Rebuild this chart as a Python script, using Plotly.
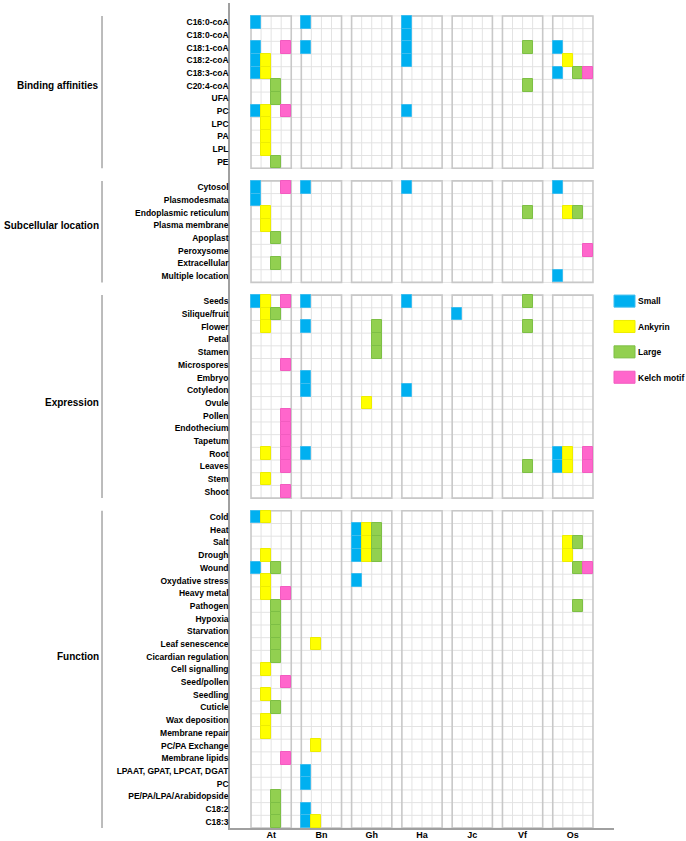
import plotly.graph_objects as go

# ---------------- data ----------------
species = ["At", "Bn", "Gh", "Ha", "Jc", "Vf", "Os"]
types = ["Small", "Ankyrin", "Large", "Kelch motif"]
type_codes = ["S", "A", "L", "K"]
type_colors = ["#00B0F0", "#FFFF00", "#92D050", "#FF66CC"]
type_borders = ["#3DBDEF", "#EDED00", "#7DBF45", "#F25CC0"]

section_names = ["Binding affinities", "Subcellular location", "Expression", "Function"]

binding_labels = ["C16:0-coA", "C18:0-coA", "C18:1-coA", "C18:2-coA", "C18:3-coA",
                  "C20:4-coA", "UFA", "PC", "LPC", "PA", "LPL", "PE"]
#                  At     Bn   Gh   Ha   Jc   Vf   Os
binding_marks = [["S",   "S", "",  "S", "",  "",  ""],
                 ["",    "",  "",  "S", "",  "",  ""],
                 ["SK",  "S", "",  "S", "",  "L", "S"],
                 ["SA",  "",  "",  "S", "",  "",  "A"],
                 ["SA",  "",  "",  "",  "",  "",  "SLK"],
                 ["L",   "",  "",  "",  "",  "L", ""],
                 ["L",   "",  "",  "",  "",  "",  ""],
                 ["SAK", "",  "",  "S", "",  "",  ""],
                 ["A",   "",  "",  "",  "",  "",  ""],
                 ["A",   "",  "",  "",  "",  "",  ""],
                 ["A",   "",  "",  "",  "",  "",  ""],
                 ["L",   "",  "",  "",  "",  "",  ""]]

subcell_labels = ["Cytosol", "Plasmodesmata", "Endoplasmic reticulum", "Plasma membrane",
                  "Apoplast", "Peroxysome", "Extracellular", "Multiple location"]
subcell_marks = [["SK", "S", "", "S", "", "",  "S"],
                 ["S",  "",  "", "",  "", "",  ""],
                 ["A",  "",  "", "",  "", "L", "AL"],
                 ["A",  "",  "", "",  "", "",  ""],
                 ["L",  "",  "", "",  "", "",  ""],
                 ["",   "",  "", "",  "", "",  "K"],
                 ["L",  "",  "", "",  "", "",  ""],
                 ["",   "",  "", "",  "", "",  "S"]]

expr_labels = ["Seeds", "Silique/fruit", "Flower", "Petal", "Stamen", "Microspores",
               "Embryo", "Cotyledon", "Ovule", "Pollen", "Endothecium", "Tapetum",
               "Root", "Leaves", "Stem", "Shoot"]
expr_marks = [["SAK", "S", "",  "S", "",  "L", ""],
              ["AL",  "",  "",  "",  "S", "",  ""],
              ["A",   "S", "L", "",  "",  "L", ""],
              ["",    "",  "L", "",  "",  "",  ""],
              ["",    "",  "L", "",  "",  "",  ""],
              ["K",   "",  "",  "",  "",  "",  ""],
              ["",    "S", "",  "",  "",  "",  ""],
              ["",    "S", "",  "S", "",  "",  ""],
              ["",    "",  "A", "",  "",  "",  ""],
              ["K",   "",  "",  "",  "",  "",  ""],
              ["K",   "",  "",  "",  "",  "",  ""],
              ["K",   "",  "",  "",  "",  "",  ""],
              ["AK",  "S", "",  "",  "",  "",  "SAK"],
              ["K",   "",  "",  "",  "",  "L", "SAK"],
              ["A",   "",  "",  "",  "",  "",  ""],
              ["K",   "",  "",  "",  "",  "",  ""]]

func_labels = ["Cold", "Heat", "Salt", "Drough", "Wound", "Oxydative stress", "Heavy metal",
               "Pathogen", "Hypoxia", "Starvation", "Leaf senescence", "Cicardian regulation",
               "Cell signalling", "Seed/pollen", "Seedling", "Cuticle", "Wax deposition",
               "Membrane repair", "PC/PA Exchange", "Membrane lipids",
               "LPAAT, GPAT, LPCAT, DGAT", "PC", "PE/PA/LPA/Arabidopside", "C18:2", "C18:3"]
func_marks = [["SA", "",   "",    "", "", "", ""],
              ["",   "",   "SAL", "", "", "", ""],
              ["",   "",   "SAL", "", "", "", "AL"],
              ["A",  "",   "SAL", "", "", "", "A"],
              ["SL", "",   "",    "", "", "", "LK"],
              ["A",  "",   "S",   "", "", "", ""],
              ["AK", "",   "",    "", "", "", ""],
              ["L",  "",   "",    "", "", "", "L"],
              ["L",  "",   "",    "", "", "", ""],
              ["L",  "",   "",    "", "", "", ""],
              ["L",  "A",  "",    "", "", "", ""],
              ["L",  "",   "",    "", "", "", ""],
              ["A",  "",   "",    "", "", "", ""],
              ["K",  "",   "",    "", "", "", ""],
              ["A",  "",   "",    "", "", "", ""],
              ["L",  "",   "",    "", "", "", ""],
              ["A",  "",   "",    "", "", "", ""],
              ["A",  "",   "",    "", "", "", ""],
              ["",   "A",  "",    "", "", "", ""],
              ["K",  "",   "",    "", "", "", ""],
              ["",   "S",  "",    "", "", "", ""],
              ["",   "S",  "",    "", "", "", ""],
              ["L",  "",   "",    "", "", "", ""],
              ["L",  "S",  "",    "", "", "", ""],
              ["L",  "SA", "",    "", "", "", ""]]

sections = [(binding_labels, binding_marks), (subcell_labels, subcell_marks),
            (expr_labels, expr_marks), (func_labels, func_marks)]
label_row_in_section = [5, 3, 8, 11]

# ---------------- layout helpers ----------------
NT = len(types)
BLOCK = NT + 1               # 4 cells + 1 gap column
NS = len(species)
XMAX = NS * BLOCK - 1        # grid spans 0..34

tickvals, ticktext = [], []
sec_ranges = []
row = 0
for labels, marks in sections:
    start = row
    for lab in labels:
        tickvals.append(row + 0.5)
        ticktext.append(lab)
        row += 1
    sec_ranges.append((start, row))
    row += 1                 # blank gap row
NROWS = row - 1              # 64

fig = go.Figure()

# colored cells as horizontal bars
for ti, code in enumerate(type_codes):
    ys, bases = [], []
    for (labels, marks), (start, _) in zip(sections, sec_ranges):
        for ri, rowmarks in enumerate(marks):
            for si, cell in enumerate(rowmarks):
                if code in cell:
                    ys.append(start + ri + 0.5)
                    bases.append(si * BLOCK + ti)
    fig.add_trace(go.Bar(
        orientation="h", y=ys, x=[1] * len(ys), base=bases, width=1,
        marker=dict(color=type_colors[ti], line=dict(color=type_borders[ti], width=1)),
        name=types[ti], showlegend=False, hoverinfo="skip"))

shapes = []
inner = dict(color="#E3E3E3", width=1)
outer = dict(color="#C8C8C8", width=1.6)
for (start, end) in sec_ranges:
    for r in range(start, end + 1):
        shapes.append(dict(type="line", xref="x", yref="y", x0=0, x1=XMAX, y0=r, y1=r,
                           line=inner, layer="below"))
    for si in range(NS):
        x0 = si * BLOCK
        for k in range(1, NT):
            shapes.append(dict(type="line", xref="x", yref="y", x0=x0 + k, x1=x0 + k,
                               y0=start, y1=end, line=inner, layer="below"))
        shapes.append(dict(type="rect", xref="x", yref="y", x0=x0, x1=x0 + NT,
                           y0=start, y1=end, line=outer, fillcolor="rgba(0,0,0,0)",
                           layer="below"))
    # bracket line for section
    shapes.append(dict(type="line", xref="paper", yref="y", x0=-0.3333, x1=-0.3333,
                       y0=start, y1=end, line=dict(color="#A6A6A6", width=1.5)))

annotations = []
for name, (start, end), lr in zip(section_names, sec_ranges, label_row_in_section):
    annotations.append(dict(text=name, xref="paper", yref="y", x=-0.336, y=start + lr + 0.5,
                            xanchor="right", yanchor="middle", showarrow=False,
                            font=dict(family="Liberation Sans", size=10, color="black",
                                      weight="bold")))

# legend (key) built from the type arrays
leg_rows = [22, 24, 26, 28]
for ti, r in enumerate(leg_rows):
    shapes.append(dict(type="rect", xref="paper", yref="y", x0=1.0, x1=1.0547,
                       y0=r, y1=r + 0.95, fillcolor=type_colors[ti],
                       line=dict(color=type_borders[ti], width=1)))
    annotations.append(dict(text=types[ti], xref="paper", yref="y", x=1.057, y=r + 0.5,
                            xanchor="left", yanchor="middle", showarrow=False,
                            font=dict(family="Liberation Sans", size=8.5, color="black",
                                      weight="bold")))

fig.update_layout(
    width=686, height=841,
    margin=dict(l=230, r=72, t=3, b=13, autoexpand=False),
    plot_bgcolor="white", paper_bgcolor="white",
    barmode="overlay", bargap=0,
    showlegend=False,
    shapes=shapes, annotations=annotations,
    xaxis=dict(range=[-2.09, XMAX + 2.09], showgrid=False, zeroline=False,
               showline=True, linecolor="#A0A0A0", linewidth=1.5,
               tickvals=[si * BLOCK + NT / 2 for si in range(NS)], ticktext=species,
               ticks="", automargin=False, ticklabelstandoff=-3,
               tickfont=dict(family="Liberation Sans", size=9, color="black", weight="bold")),
    yaxis=dict(range=[NROWS, -1.02], showgrid=False, zeroline=False,
               showline=True, linecolor="#A0A0A0", linewidth=1.5,
               tickvals=tickvals, ticktext=ticktext, ticks="", automargin=False,
               ticklabelstandoff=-2,
               tickfont=dict(family="Liberation Sans", size=8.5, color="black", weight="bold")),
)

fig.write_html("out.html", config={"displayModeBar": False},
               post_script="document.body.style.margin='0';document.body.style.padding='0';")
